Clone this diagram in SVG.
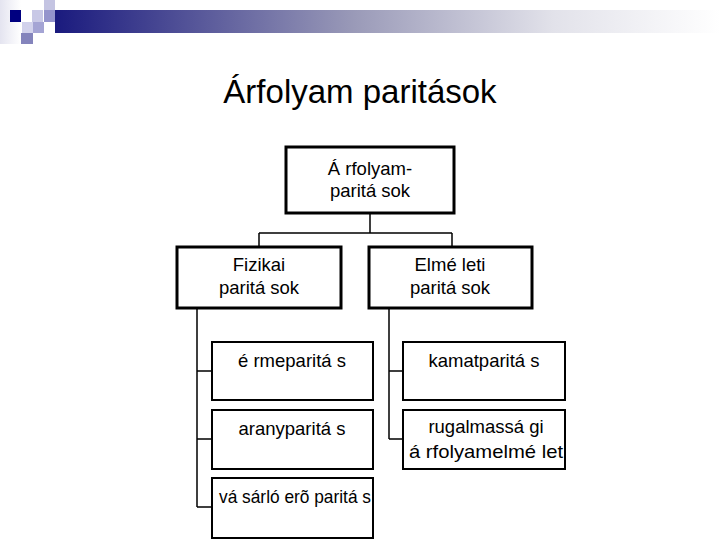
<svg xmlns="http://www.w3.org/2000/svg" width="720" height="540" viewBox="0 0 720 540">
<defs>
<linearGradient id="bar" x1="0" y1="0" x2="1" y2="0">
<stop offset="0" stop-color="#1a1a7e"/>
<stop offset="0.45" stop-color="#9a9ab8"/>
<stop offset="0.75" stop-color="#e2e2ea"/>
<stop offset="1" stop-color="#ffffff"/>
</linearGradient>
<linearGradient id="fade" x1="0" y1="0" x2="1" y2="0">
<stop offset="0" stop-color="#e4e4f0"/>
<stop offset="1" stop-color="#ffffff"/>
</linearGradient>
<style>
.title{font-family:"Liberation Sans",Arial,sans-serif;font-size:33px;fill:#000;text-anchor:middle}
.lbl{font-family:"Liberation Sans",Arial,sans-serif;font-size:18.5px;fill:#000;text-anchor:middle}
.main{fill:#fff;stroke:#000;stroke-width:3}
.sub{fill:#fff;stroke:#000;stroke-width:2}
.conn{fill:none;stroke:#000;stroke-width:1.5}
</style>
</defs>
<g id="header">
<rect x="0" y="0" width="21" height="44" fill="url(#fade)"/>
<rect x="55" y="10" width="665" height="23" fill="url(#bar)"/>
<rect x="10" y="10" width="11" height="12" fill="#000080"/>
<rect x="32" y="10" width="11" height="12" fill="#c8c8e6"/>
<rect x="44" y="0" width="11" height="10" fill="#c4c4e2"/>
<rect x="44" y="10" width="11" height="12" fill="#9494cc"/>
<rect x="22" y="22" width="11" height="11" fill="#d2d2ec"/>
<rect x="33" y="22" width="11" height="11" fill="#a4a4d4"/>
<rect x="21" y="33" width="12" height="11" fill="#8484bc"/>
</g>
<text class="title" x="360" y="103">Árfolyam paritások</text>
<g id="connectors">
<path class="conn" d="M370 214 V233 M259 233 H452 M259 233 V246 M452 233 V246"/>
<path class="conn" d="M197 309 V507 M197 371 H212 M197 439 H212 M197 507 H212"/>
<path class="conn" d="M389 308 V439 M389 371 H403 M389 439 H403"/>
</g>
<g id="n-root">
<rect class="main" x="286" y="147" width="168" height="66"/>
<text class="lbl" x="370" y="175">Á rfolyam-</text>
<text class="lbl" x="370" y="197">paritá sok</text>
</g>
<g id="n-fizikai">
<rect class="main" x="177" y="247" width="164" height="61"/>
<text class="lbl" x="259" y="271">Fizikai</text>
<text class="lbl" x="259" y="294">paritá sok</text>
</g>
<g id="n-elmeleti">
<rect class="main" x="369" y="247" width="163" height="61"/>
<text class="lbl" x="450" y="271">Elmé leti</text>
<text class="lbl" x="450" y="294">paritá sok</text>
</g>
<g id="n-erme">
<rect class="sub" x="212" y="342" width="161" height="58"/>
<text class="lbl" x="292" y="367">é rmeparitá s</text>
</g>
<g id="n-arany">
<rect class="sub" x="212" y="410" width="161" height="59"/>
<text class="lbl" x="292" y="435">aranyparitá s</text>
</g>
<g id="n-vasarlo">
<rect class="sub" x="212" y="478" width="161" height="60"/>
<text class="lbl" x="295" y="503" textLength="152" lengthAdjust="spacingAndGlyphs">vá sárló erõ paritá s</text>
</g>
<g id="n-kamat">
<rect class="sub" x="403" y="342" width="162" height="58"/>
<text class="lbl" x="484" y="367">kamatparitá s</text>
</g>
<g id="n-rugalmas">
<rect class="sub" x="403" y="410" width="162" height="59"/>
<text class="lbl" x="486" y="433">rugalmassá gi</text>
<text class="lbl" x="486" y="458" textLength="154" lengthAdjust="spacingAndGlyphs">á rfolyamelmé let</text>
</g>
</svg>
